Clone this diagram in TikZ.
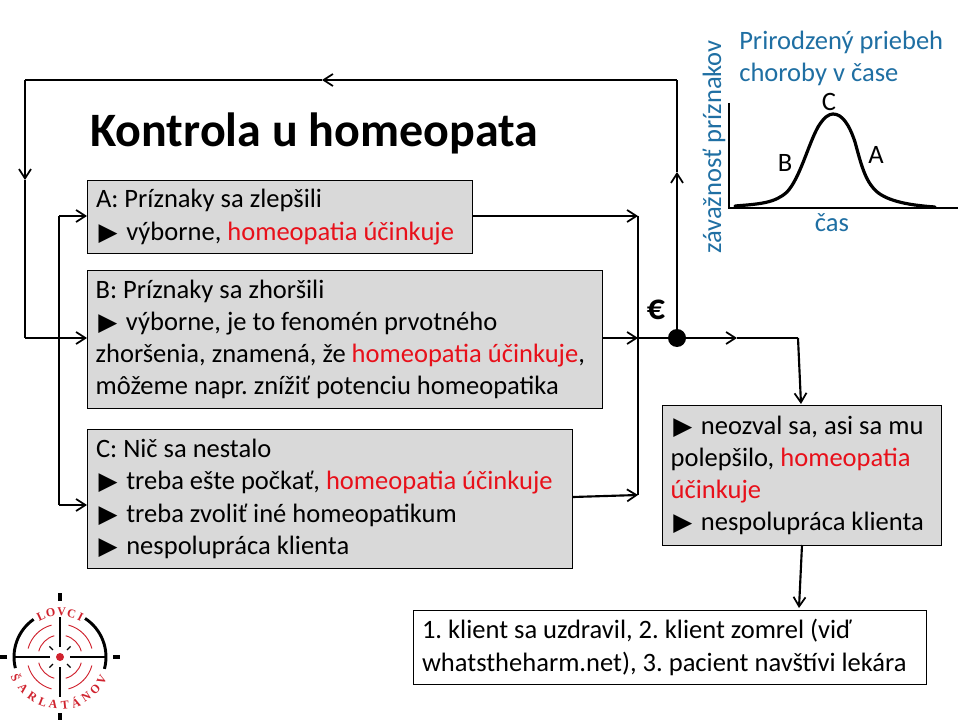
\documentclass[tikz,border=0pt]{standalone}
\usepackage{fontspec}
\setmainfont{Carlito}
\newfontfamily\symfont{DejaVu Sans}
\newfontfamily\serifa{Liberation Serif}
\usetikzlibrary{arrows.meta,calc}
\definecolor{boxgray}{HTML}{D9D9D9}
\definecolor{hred}{HTML}{E8101A}
\definecolor{hblue}{HTML}{1F6FA3}
\definecolor{logored}{HTML}{D0222E}
\newcommand{\tri}{\hspace{2pt}{\symfont\fontsize{18.5pt}{18.5pt}\selectfont ▶}\hspace{6.5pt}}
\newcommand{\rd}[1]{\textcolor{hred}{#1}}
\tikzset{
  x=0.75pt,y=-0.75pt,
  txtfont/.style={font=\fontsize{19.9pt}{24.2pt}\selectfont},
  infobox/.style={draw=black,line width=0.75pt,anchor=north west,inner xsep=6pt,inner ysep=0pt,align=flush left,txtfont},
  graybox/.style={infobox,fill=boxgray},
  flow/.style={line width=1.6pt,black},
  tip/.style={-{Straight Barb[length=7pt,width=9pt,line width=1.3pt]}},
  bluetext/.style={text=hblue,font=\fontsize{19.9pt}{24.2pt}\selectfont,inner sep=0pt},
  plainlabel/.style={font=\fontsize{19.9pt}{24pt}\selectfont,inner sep=0pt},
  logoletter/.style={text=logored,inner sep=0pt,font=\serifa\bfseries\fontsize{9pt}{9pt}\selectfont},
}
\begin{document}
\frenchspacing
\begin{tikzpicture}
\useasboundingbox (0,0) rectangle (960,720);
\fill[white] (0,0) rectangle (960,720);

\node[anchor=west,inner sep=0pt,font=\bfseries\fontsize{36pt}{40pt}\selectfont] (title) at (90,133) {Kontrola u homeopata};

% boxes
\node[graybox,minimum width=288.75pt,minimum height=54.75pt,text width=276pt] (A) at (87,180)
 {A: Príznaky sa zlepšili\\\tri výborne, \rd{homeopatia účinkuje}};
\node[graybox,minimum width=386.25pt,minimum height=103.5pt,text width=374pt] (B) at (87,270)
 {B: Príznaky sa zhoršili\\\tri výborne, je to fenomén prvotného\\zhoršenia, znamená, že \rd{homeopatia účinkuje},\\môžeme napr. znížiť potenciu homeopatika};
\node[graybox,minimum width=363.75pt,minimum height=104.25pt,text width=351pt] (C) at (87,429)
 {C: Nič sa nestalo\\\tri treba ešte počkať, \rd{homeopatia účinkuje}\\\tri treba zvoliť iné homeopatikum\\\tri nespolupráca klienta};
\node[graybox,minimum width=209.25pt,minimum height=105pt,text width=197pt] (D) at (662,405)
 {\tri neozval sa, asi sa mu\\polepšilo, \rd{homeopatia}\\\rd{účinkuje}\\\tri nespolupráca klienta};
\node[infobox,fill=white,minimum width=384.75pt,minimum height=55.5pt,text width=372pt] (E) at (413,610)
 {1. klient sa uzdravil, 2. klient zomrel (viď\\whatstheharm.net), 3. pacient navštívi lekára};

% junctions
\node[circle,fill=black,inner sep=0pt,minimum size=13.5pt] (dot) at (677,338) {};
\node[inner sep=0pt,font=\bfseries\fontsize{27pt}{28pt}\selectfont] (euro) at (656,310) {€};
\coordinate (busR) at (638,338);
\coordinate (busRtop) at (638,216);
\coordinate (busRbot) at (638,495);
\coordinate (busLtop) at (59,216);
\coordinate (busLbot) at (59,505);
\coordinate (upTip) at (677,172);
\coordinate (topR) at (677,80);
\coordinate (topMid) at (322,80);
\coordinate (topL) at (25,80);
\coordinate (leftTip) at (25,180);
\coordinate (leftB) at (25,338);
\coordinate (midTip) at (737,338);
\coordinate (bend) at (798,338);

% connectors
\draw[flow] (busRtop) -- (busRbot);
\draw[flow,tip] (A.east |- busRtop) -- (busRtop);
\draw[flow,tip] (B.east |- busR) -- (busR);
\draw[flow,tip] (C.east |- 0,497) -- (busRbot);
\draw[flow] (busR) -- (dot);
\draw[flow,tip] (dot) -- (midTip);
\draw[flow] (midTip) -- (bend);
\draw[flow,tip] (bend) -- (801,404);
\draw[flow,tip] (802,545) -- (799,608);
\draw[flow,tip] (dot) -- (upTip);
\draw[flow] (upTip) -- (topR);
\draw[flow,tip] (topR) -- (topMid);
\draw[flow] (topMid) -- (topL);
\draw[flow,tip] (topL) -- (leftTip);
\draw[flow] (leftTip) -- (leftB);
\draw[flow,tip] (leftB) -- (B.west |- leftB);
\draw[flow] (busLtop) -- (busLbot);
\draw[flow,tip] (busLtop) -- (A.west |- busLtop);
\draw[flow,tip] (busLbot) -- (C.west |- busLbot);

% inset chart
\draw[line width=1pt] (729,103) -- (729,208) -- (958,208);
\draw[line width=2.4pt,line cap=round] (735,206)
  .. controls (760,204) and (775,203) .. (787,192)
  .. controls (800,178) and (808,145) .. (818,127)
  .. controls (824,117) and (829,114) .. (833,114)
  .. controls (842,114) and (849,124) .. (855,142)
  .. controls (860,160) and (864,178) .. (874,189)
  .. controls (884,200) and (905,205) .. (935,207);
\node[bluetext,anchor=west] (t1) at (739,42) {Prirodzený priebeh};
\node[bluetext,anchor=west] (t2) at (739,74) {choroby v čase};
\node[bluetext,rotate=90] (yl) at (714,147) {závažnosť príznakov};
\node[bluetext] (xl) at (832,223) {čas};
\node[plainlabel] (lc) at (829,102) {C};
\node[plainlabel] (lb) at (785,163) {B};
\node[plainlabel] (la) at (876,155) {A};

% logo
\begin{scope}[shift={(60,657)},yscale=-1]
  \draw[line width=2.2pt] (125:46) arc[start angle=125,end angle=194,radius=46];
  \draw[line width=2.2pt] (57:46) arc[start angle=57,end angle=-15,radius=46];
  \draw[line width=2.4pt] (0:53) -- (0:60);
  \draw[line width=2.4pt] (180:53) -- (180:60);
  \draw[line width=2.4pt] (90:56) -- (90:64);
  \draw[line width=2.4pt] (270:56) -- (270:64);
  \foreach \a in {0,90,180,270}{
    \draw[line width=0.9pt] (\a:10) -- (\a:40);
  }
  \draw[line width=2.2pt] (0:38) -- (0:46);
  \draw[line width=2.2pt] (180:38) -- (180:46);
  \foreach \a in {45,135,225,315}{
    \draw[line width=0.9pt] (\a:10) -- (\a:15);
    \draw[logored,line width=0.7pt] (\a-30:22) arc[start angle=\a-30,end angle=\a+30,radius=22];
    \draw[logored,line width=0.7pt] (\a-30:33) arc[start angle=\a-30,end angle=\a+30,radius=33];
  }
  \fill[logored] (0,0) circle[radius=4];
  \foreach \c/\ang in {L/115,O/102,V/88,C/75,I/63}{
    \node[logoletter,rotate=\ang-90] (top\ang) at (\ang:45) {\c};
  }
  \foreach \c/\ang in {Š/205,A/220,R/235,L/249,A/262,T/276,Á/289,N/303,O/317,V/331}{
    \node[logoletter,rotate=\ang+90] (bot\ang) at (\ang:48) {\c};
  }
\end{scope}
\end{tikzpicture}
\end{document}
